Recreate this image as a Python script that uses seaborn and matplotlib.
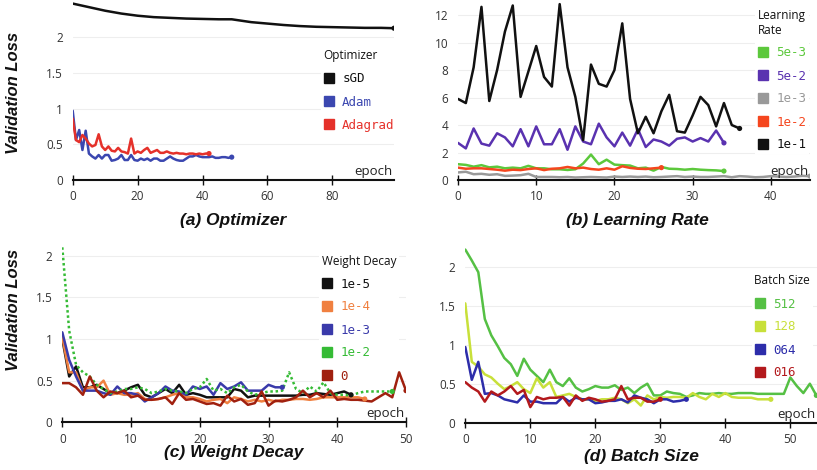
import matplotlib
matplotlib.use("Agg")
import pandas as pd
import matplotlib.pyplot as plt
import seaborn as sns
from matplotlib.lines import Line2D
from matplotlib.ticker import FuncFormatter

# (a) Optimizer
sgd_epochs = [0, 5, 10, 15, 20, 25, 30, 35, 40, 45, 49, 55, 60, 65, 70, 75, 80, 85, 90, 95, 99]
sgd_loss = [2.47, 2.42, 2.37, 2.33, 2.30, 2.28, 2.27, 2.26, 2.255, 2.25, 2.25, 2.21, 2.19,
            2.17, 2.155, 2.145, 2.14, 2.135, 2.13, 2.13, 2.125]
adam_loss = [0.97, 0.56, 0.70, 0.42, 0.69, 0.37, 0.33, 0.30, 0.35, 0.30,
             0.35, 0.35, 0.27, 0.28, 0.30, 0.35, 0.28, 0.28, 0.35, 0.28,
             0.27, 0.30, 0.28, 0.30, 0.27, 0.30, 0.30, 0.27, 0.27, 0.30,
             0.33, 0.30, 0.28, 0.27, 0.27, 0.30, 0.33, 0.33, 0.35, 0.33,
             0.32, 0.32, 0.32, 0.33, 0.31, 0.31, 0.32, 0.32, 0.31, 0.32]
adagrad_loss = [0.86, 0.56, 0.53, 0.63, 0.58, 0.51, 0.47, 0.49, 0.64, 0.47,
                0.42, 0.47, 0.41, 0.40, 0.45, 0.40, 0.39, 0.37, 0.58, 0.37,
                0.40, 0.38, 0.42, 0.45, 0.38, 0.40, 0.42, 0.38, 0.38, 0.40,
                0.38, 0.37, 0.38, 0.37, 0.37, 0.36, 0.37, 0.37, 0.36, 0.37,
                0.36, 0.37, 0.37]

# (b) Learning Rate
lr_5e3 = [1.15, 1.1, 0.97, 1.08, 0.92, 0.97, 0.85, 0.9, 0.85, 1.03,
          0.85, 0.85, 0.78, 0.78, 0.73, 0.78, 1.2, 1.85, 1.15, 1.48,
          1.12, 1.08, 1.05, 0.85, 0.9, 0.68, 0.95, 0.82, 0.8, 0.75,
          0.8, 0.75, 0.72, 0.7, 0.65]
lr_5e2 = [2.7, 2.3, 3.75, 2.65, 2.5, 3.4, 3.1, 2.45, 3.7, 2.45,
          3.9, 2.6, 2.6, 3.7, 2.2, 3.9, 2.8, 2.6, 4.1, 3.1,
          2.45, 3.45, 2.5, 3.7, 2.4, 2.95, 2.8, 2.5, 3.0, 3.1,
          2.8, 3.05, 2.8, 3.6, 2.7]
lr_1e3 = [0.55, 0.6, 0.42, 0.45, 0.38, 0.42, 0.3, 0.32, 0.35, 0.45,
          0.22, 0.22, 0.22, 0.2, 0.22, 0.18, 0.2, 0.22, 0.2, 0.18,
          0.25, 0.22, 0.25, 0.22, 0.25, 0.2, 0.22, 0.25, 0.28, 0.22,
          0.25, 0.22, 0.22, 0.25, 0.28, 0.2, 0.28, 0.25, 0.2, 0.22,
          0.28, 0.25, 0.22, 0.25, 0.3, 0.28]
lr_1e2 = [0.9, 0.82, 0.85, 0.85, 0.8, 0.75, 0.68, 0.75, 0.72, 0.8,
          0.85, 0.72, 0.82, 0.85, 0.95, 0.85, 0.9, 0.8, 0.75, 0.85,
          0.75, 1.0, 0.88, 0.82, 0.8, 0.85, 0.9]
lr_1e1 = [5.9, 5.6, 8.2, 12.6, 5.75, 8.0, 10.8, 12.7, 6.05, 7.9,
          9.75, 7.5, 6.8, 12.8, 8.2, 6.05, 2.9, 8.4, 7.0, 6.8,
          8.0, 11.4, 5.9, 3.4, 4.6, 3.4, 5.0, 6.2, 3.55, 3.45,
          4.7, 6.05, 5.45, 3.9, 5.6, 4.0, 3.75]

# (c) Weight Decay
wd_1e5 = [1.0, 0.55, 0.67, 0.42, 0.42, 0.45, 0.4, 0.35, 0.35, 0.38,
          0.42, 0.45, 0.33, 0.3, 0.35, 0.4, 0.35, 0.45, 0.33, 0.35,
          0.33, 0.3, 0.3, 0.3, 0.3, 0.4, 0.38, 0.3, 0.32, 0.32,
          0.32, 0.32, 0.32, 0.32, 0.32, 0.33, 0.33, 0.35, 0.34, 0.33,
          0.35, 0.37, 0.33]
wd_1e4 = [1.02, 0.6, 0.6, 0.38, 0.42, 0.42, 0.5, 0.33, 0.35, 0.33,
          0.33, 0.35, 0.28, 0.27, 0.28, 0.3, 0.33, 0.35, 0.3, 0.3,
          0.28, 0.25, 0.27, 0.28, 0.23, 0.3, 0.28, 0.25, 0.27, 0.25,
          0.27, 0.25, 0.27, 0.27, 0.28, 0.28, 0.27, 0.28, 0.3, 0.3,
          0.3, 0.3, 0.3, 0.3, 0.28]
wd_1e3 = [1.08, 0.75, 0.55, 0.38, 0.38, 0.38, 0.35, 0.33, 0.43, 0.35,
          0.35, 0.33, 0.25, 0.3, 0.35, 0.43, 0.38, 0.37, 0.33, 0.43,
          0.4, 0.43, 0.33, 0.47, 0.4, 0.43, 0.48, 0.38, 0.38, 0.38,
          0.45, 0.42, 0.42]
wd_1e2 = [2.1, 1.1, 0.69, 0.6, 0.55, 0.45, 0.4, 0.35, 0.37, 0.4,
          0.4, 0.42, 0.4, 0.35, 0.37, 0.4, 0.38, 0.37, 0.35, 0.4,
          0.42, 0.52, 0.38, 0.4, 0.35, 0.42, 0.45, 0.37, 0.33, 0.35,
          0.37, 0.37, 0.38, 0.6, 0.4, 0.35, 0.43, 0.37, 0.48, 0.35,
          0.33, 0.33, 0.32, 0.35, 0.37, 0.37, 0.37, 0.37, 0.37]
wd_0 = [0.47, 0.47, 0.42, 0.33, 0.55, 0.38, 0.3, 0.37, 0.35, 0.38,
        0.3, 0.32, 0.27, 0.27, 0.28, 0.3, 0.22, 0.35, 0.27, 0.28,
        0.25, 0.22, 0.23, 0.2, 0.32, 0.25, 0.28, 0.21, 0.23, 0.37,
        0.2, 0.26, 0.25, 0.27, 0.3, 0.38, 0.3, 0.35, 0.3, 0.38,
        0.27, 0.28, 0.27, 0.27, 0.26, 0.25, 0.3, 0.35, 0.3, 0.6, 0.38]

# (d) Batch Size
bs_512 = [2.22, 2.08, 1.93, 1.33, 1.12, 0.98, 0.83, 0.75, 0.6, 0.82,
          0.68, 0.6, 0.52, 0.68, 0.52, 0.47, 0.57, 0.45, 0.4, 0.43,
          0.47, 0.45, 0.45, 0.48, 0.42, 0.45, 0.38, 0.45, 0.5, 0.35,
          0.35, 0.4, 0.38, 0.37, 0.33, 0.35, 0.38, 0.37, 0.37, 0.38,
          0.37, 0.37, 0.38, 0.38, 0.38, 0.37, 0.37, 0.37, 0.37, 0.37,
          0.58, 0.47, 0.38, 0.5, 0.35]
bs_128 = [1.53, 0.78, 0.72, 0.62, 0.58, 0.5, 0.43, 0.47, 0.52, 0.43,
          0.38, 0.57, 0.45, 0.52, 0.33, 0.35, 0.37, 0.33, 0.3, 0.3,
          0.28, 0.3, 0.3, 0.32, 0.3, 0.25, 0.3, 0.22, 0.35, 0.3,
          0.33, 0.32, 0.33, 0.33, 0.32, 0.38, 0.33, 0.3, 0.37, 0.33,
          0.38, 0.33, 0.32, 0.32, 0.32, 0.3, 0.3, 0.3]
bs_064 = [0.97, 0.55, 0.78, 0.37, 0.38, 0.35, 0.3, 0.28, 0.26, 0.35,
          0.27, 0.27, 0.25, 0.25, 0.25, 0.33, 0.27, 0.32, 0.3, 0.3,
          0.25, 0.26, 0.28, 0.28, 0.3, 0.26, 0.35, 0.32, 0.3, 0.25,
          0.3, 0.3, 0.27, 0.28, 0.3]
bs_016 = [0.52, 0.45, 0.4, 0.27, 0.4, 0.35, 0.4, 0.47, 0.37, 0.42,
          0.2, 0.33, 0.3, 0.32, 0.32, 0.33, 0.22, 0.35, 0.28, 0.32,
          0.3, 0.27, 0.28, 0.3, 0.47, 0.3, 0.32, 0.32, 0.27, 0.27, 0.3]


def to_long(series):
    frames = []
    for name, (ep, vals) in series.items():
        frames.append(pd.DataFrame({"epoch": ep, "loss": vals, "series": name}))
    return pd.concat(frames, ignore_index=True)


def ep(vals):
    return list(range(len(vals)))


panels = [
    dict(key="a", title="(a) Optimizer", legend="Optimizer",
         series={"sGD": (sgd_epochs, sgd_loss), "Adam": (ep(adam_loss), adam_loss),
                 "Adagrad": (ep(adagrad_loss), adagrad_loss)},
         colors=["#111111", "#3b47b0", "#e5312a"],
         box=(72.7, 394, 0, 180), xlim=(0, 99), ylim=(0, 2.52),
         xticks=[0, 20, 40, 60, 80], yticks=[0, 0.5, 1, 1.5, 2],
         leg_at=(321, 47), title_at=(233, 220)),
    dict(key="b", title="(b) Learning Rate", legend="Learning\nRate",
         series={"5e-3": (ep(lr_5e3), lr_5e3), "5e-2": (ep(lr_5e2), lr_5e2),
                 "1e-3": (ep(lr_1e3), lr_1e3), "1e-2": (ep(lr_1e2), lr_1e2),
                 "1e-1": (ep(lr_1e1), lr_1e1)},
         colors=["#5cc83c", "#5a32b0", "#999999", "#f5461e", "#111111"],
         box=(458, 810, 0, 180), xlim=(0, 45), ylim=(0, 13.1),
         xticks=[0, 10, 20, 30, 40], yticks=[0, 2, 4, 6, 8, 10, 12],
         leg_at=(755, 6), title_at=(637, 220)),
    dict(key="c", title="(c) Weight Decay", legend="Weight Decay",
         series={"1e-5": (ep(wd_1e5), wd_1e5), "1e-4": (ep(wd_1e4), wd_1e4),
                 "1e-3": (ep(wd_1e3), wd_1e3), "1e-2": (ep(wd_1e2), wd_1e2),
                 "0": (ep(wd_0), wd_0)},
         colors=["#111111", "#f08040", "#3a3aaa", "#35bb35", "#a0200f"],
         box=(62.3, 406, 239, 422.3), xlim=(0, 50), ylim=(0, 2.2),
         xticks=[0, 10, 20, 30, 40, 50], yticks=[0, 0.5, 1, 1.5, 2],
         leg_at=(319, 252), title_at=(234, 453)),
    dict(key="d", title="(d) Batch Size", legend="Batch Size",
         series={"512": (ep(bs_512), bs_512), "128": (ep(bs_128), bs_128),
                 "064": (ep(bs_064), bs_064), "016": (ep(bs_016), bs_016)},
         colors=["#55c044", "#c8e03a", "#2d2daa", "#b3191c"],
         box=(465.3, 817, 244.9, 422.7), xlim=(0, 54.1), ylim=(0, 2.28),
         xticks=[0, 10, 20, 30, 40, 50], yticks=[0, 0.5, 1, 1.5, 2],
         leg_at=(752, 272), title_at=(641, 457)),
]

sns.set_theme(style="white")
plt.rcParams["font.family"] = ["Open Sans", "DejaVu Sans"]

W, H = 817, 470
fig = plt.figure(figsize=(W / 100, H / 100), dpi=100)
fmt = FuncFormatter(lambda v, _: f"{v:g}")

for p in panels:
    x0, x1, y0, y1 = p["box"]
    ax = fig.add_axes([x0 / W, 1 - y1 / H, (x1 - x0) / W, (y1 - y0) / H])
    df = to_long(p["series"])
    names = list(p["series"].keys())
    pal = dict(zip(names, p["colors"]))

    if p["key"] == "c":
        dashes = {n: "" for n in names}
        dashes["1e-2"] = (1, 1.1)
        sns.lineplot(data=df, x="epoch", y="loss", hue="series", style="series",
                     dashes=dashes, hue_order=names, palette=pal, linewidth=1.8,
                     errorbar=None, legend=False, ax=ax)
    else:
        sns.lineplot(data=df, x="epoch", y="loss", hue="series", hue_order=names,
                     palette=pal, linewidth=1.8, errorbar=None, legend=False, ax=ax)

    last = df.groupby("series", sort=False).tail(1)
    sns.scatterplot(data=last, x="epoch", y="loss", hue="series", hue_order=names,
                    palette=pal, s=14, linewidth=0, legend=False, ax=ax, zorder=3)

    ax.set_xlim(*p["xlim"])
    ax.set_ylim(*p["ylim"])
    ax.set_xticks(p["xticks"])
    ax.set_yticks(p["yticks"])
    ax.yaxis.set_major_formatter(fmt)
    ax.set_xlabel("")
    ax.set_ylabel("")
    sns.despine(ax=ax, left=True)
    ax.spines["bottom"].set_color("#111111")
    ax.spines["bottom"].set_linewidth(1.5)
    ax.grid(axis="y", color="#eeeeee", linewidth=0.8)
    ax.set_axisbelow(True)
    ax.tick_params(axis="x", direction="inout", length=7, width=1, color="#111111",
                   labelsize=8.5, labelcolor="#333333", pad=4, bottom=True)
    ax.tick_params(axis="y", length=0, labelsize=8.5, labelcolor="#333333", pad=7)
    ax.patch.set_alpha(0)

    ax.text(0.995, 0.01, "epoch", transform=ax.transAxes, ha="right", va="bottom",
            fontsize=9.5, color="#222222")

    handles = [Line2D([], [], ls="", marker="s", markersize=7, color=c) for c in p["colors"]]
    lx, ly = p["leg_at"]
    leg = ax.legend(handles, names, title=p["legend"], loc="upper left",
                    bbox_to_anchor=(lx / W, 1 - ly / H), bbox_transform=fig.transFigure,
                    frameon=True, facecolor="white", edgecolor="none", framealpha=1,
                    fancybox=False, prop={"family": "DejaVu Sans Mono", "size": 9},
                    title_fontproperties={"family": "Open Sans", "size": 8.5},
                    alignment="left", handlelength=0.8, handletextpad=0.7,
                    labelspacing=0.8, borderpad=0.2, borderaxespad=0)
    for t, c in zip(leg.get_texts(), p["colors"]):
        t.set_color(c)
    leg.get_title().set_color("#111111")
    leg.set_zorder(1.5)

    tx, ty = p["title_at"]
    fig.text(tx / W, 1 - ty / H, p["title"], ha="center", va="center",
             fontsize=12.5, fontweight="bold", fontstyle="italic",
             family="Liberation Sans", color="#111111")

for yc in (93, 310):
    fig.text(14 / W, 1 - yc / H, "Validation Loss", rotation=90, ha="center", va="center",
             fontsize=12, fontweight="bold", fontstyle="italic",
             family="Liberation Sans", color="#111111")

fig.savefig("out.png", dpi=100)
